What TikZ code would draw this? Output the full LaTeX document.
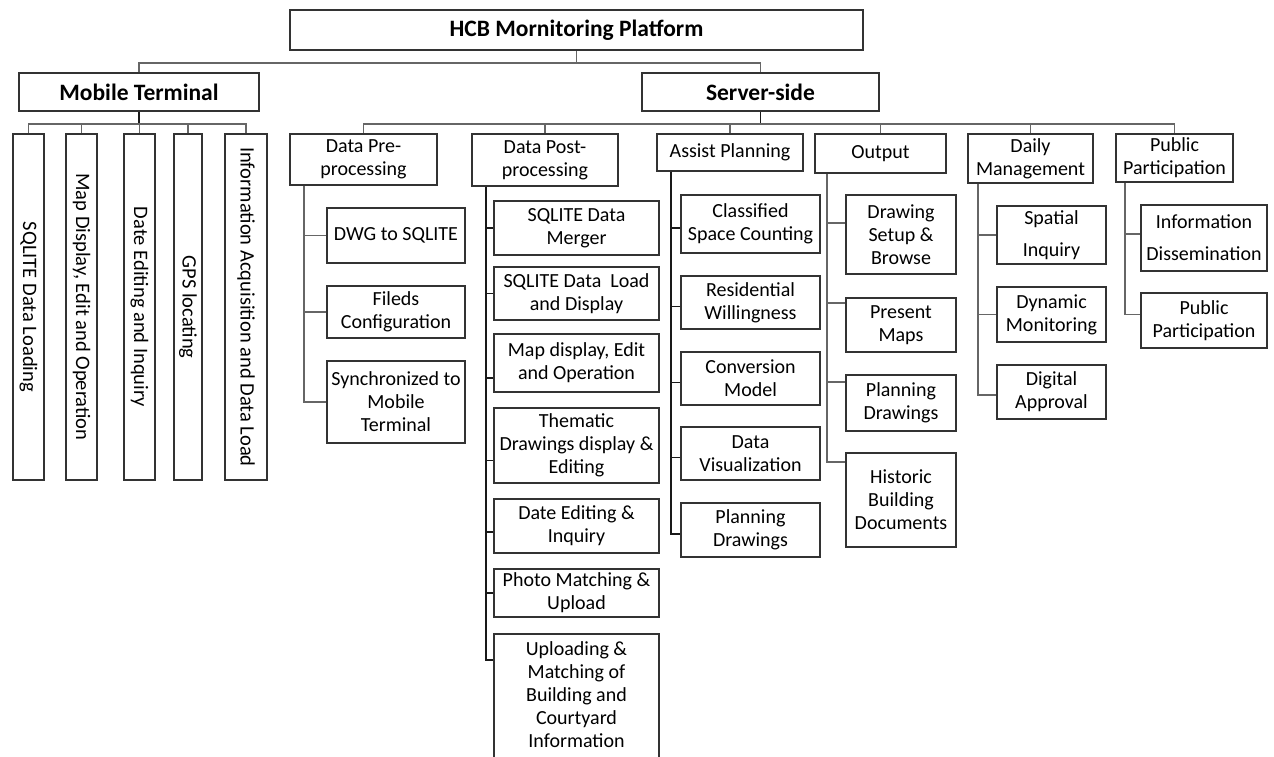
\documentclass[tikz,border=0pt]{standalone}
\usepackage{fontspec}
\setmainfont{Carlito}
\begin{document}
\begin{tikzpicture}[x=1pt,y=-1pt,
 bx/.style={draw=black!80, line width=1.6pt, align=center, inner sep=0pt, font=\fontsize{20}{23}\selectfont, text=black},
 ttl/.style={bx, font=\fontsize{23.5}{26}\selectfont\bfseries},
 vbx/.style={bx, rotate=-90, minimum width=346, font=\fontsize{20.5}{23}\selectfont},
 ln/.style={draw=black!60, line width=1.7pt},
 dln/.style={draw=black!90, line width=1.9pt}]
\useasboundingbox (0,0) rectangle (1274,756);
% top level
\node[ttl, minimum width=573, minimum height=40] (hcb) at (576.5,30) {HCB Mornitoring Platform};
\node[ttl, minimum width=240, minimum height=38] (mt) at (139,92) {Mobile Terminal};
\node[ttl, minimum width=237, minimum height=38] (ss) at (760.5,92) {Server-side};
% mobile terminal children
\node[vbx, minimum height=31] (m1) at (28.5,307) {SQLITE Data Loading};
\node[vbx, minimum height=31] (m2) at (81.5,307) {Map Display, Edit and Operation};
\node[vbx, minimum height=31] (m3) at (139.5,307) {Date Editing and Inquiry};
\node[vbx, minimum height=28] (m4) at (188,307) {GPS locating};
\node[vbx, minimum height=42] (m5) at (246,307) {Information Acquisition and Data Load};
% server-side groups
\node[bx, minimum width=147, minimum height=51] (dp) at (363.5,159.5) {Data Pre-\\processing};
\node[bx, minimum width=146, minimum height=52] (dq) at (545,160) {Data Post-\\processing};
\node[bx, minimum width=146, minimum height=37] (ap) at (730,152.5) {Assist Planning};
\node[bx, minimum width=131, minimum height=39] (op) at (880.5,153.5) {Output};
\node[bx, minimum width=125, minimum height=49] (dm) at (1030.5,158.5) {Daily\\Management};
\node[bx, minimum width=117, minimum height=48] (pp) at (1174.5,158) {Public\\Participation};
% data pre-processing
\node[bx, minimum width=138, minimum height=55] (a1) at (396,235.5) {DWG to SQLITE};
\node[bx, minimum width=138, minimum height=52] (a2) at (396,312) {Fileds\\Configuration};
\node[bx, minimum width=138, minimum height=82] (a3) at (396,402) {Synchronized to\\Mobile\\Terminal};
% data post-processing
\node[bx, minimum width=165, minimum height=54] (b1) at (576.5,228) {SQLITE Data\\Merger};
\node[bx, minimum width=165, minimum height=53] (b2) at (576.5,293.5) {SQLITE Data\ \ Load\\and Display};
\node[bx, minimum width=165, minimum height=58] (b3) at (576.5,363) {Map display, Edit\\and Operation};
\node[bx, minimum width=165, minimum height=75] (b4) at (576.5,445.5) {Thematic\\Drawings display \&\\Editing};
\node[bx, minimum width=165, minimum height=54] (b5) at (576.5,526) {Date Editing \&\\Inquiry};
\node[bx, minimum width=165, minimum height=48] (b6) at (576.5,593) {Photo Matching \&\\Upload};
\node[bx, minimum width=165, minimum height=137, anchor=north] (b7) at (576.5,633) {};
\node[align=center, inner sep=0pt, font=\fontsize{20}{23}\selectfont] (b7t) at (576.5,694.5) {Uploading \&\\Matching of\\Building and\\Courtyard\\Information};
% assist planning
\node[bx, minimum width=139, minimum height=58] (c1) at (750.5,224) {Classified\\Space Counting};
\node[bx, minimum width=139, minimum height=53] (c2) at (750.5,302.5) {Residential\\Willingness};
\node[bx, minimum width=139, minimum height=53] (c3) at (750.5,378.5) {Conversion\\Model};
\node[bx, minimum width=139, minimum height=53] (c4) at (750.5,453.5) {Data\\Visualization};
\node[bx, minimum width=139, minimum height=54] (c5) at (750.5,530) {Planning\\Drawings};
% output
\node[bx, minimum width=110, minimum height=79] (d1) at (901,234.5) {Drawing\\Setup \&\\Browse};
\node[bx, minimum width=110, minimum height=54] (d2) at (901,325) {Present\\Maps};
\node[bx, minimum width=110, minimum height=56] (d3) at (901,403) {Planning\\Drawings};
\node[bx, minimum width=110, minimum height=94] (d4) at (901,500) {Historic\\Building\\Documents};
% daily management
\node[bx, minimum width=109, minimum height=58, font=\fontsize{20}{32}\selectfont] (e1) at (1051.5,235) {Spatial\\Inquiry};
\node[bx, minimum width=109, minimum height=55] (e2) at (1051.5,314.5) {Dynamic\\Monitoring};
\node[bx, minimum width=109, minimum height=54] (e3) at (1051.5,392) {Digital\\Approval};
% public participation
\node[bx, minimum width=126, minimum height=66, font=\fontsize{20}{32}\selectfont] (f1) at (1204,238) {Information\\Dissemination};
\node[bx, minimum width=126, minimum height=55] (f2) at (1204,320.5) {Public\\Participation};
% connectors: top
\draw[ln] (hcb.south) -- ++(0,12) coordinate (j0) -| (mt.north);
\draw[ln] (j0) -| (ss.north);
\draw[dln] (mt.south) -- ++(0,12) coordinate (j1);
\foreach \n in {m1,m2,m3,m4,m5} \draw[ln] (j1) -| (\n.west);
\draw[dln] (ss.south) -- ++(0,12) coordinate (j2);
\foreach \n in {dp,dq,ap,op,dm,pp} \draw[ln] (j2) -| (\n.north);
% group trees
\coordinate (g1) at ([xshift=15pt]dp.south west);
\foreach \n in {a1,a2,a3} \draw[ln] (g1) |- (\n.west);
\coordinate (g2) at ([xshift=15pt]dq.south west);
\foreach \t in {b1,b2,b6} \draw[dln] (g2) |- (\t.west);
\draw[dln] (g2) |- ([yshift=-15pt]b3.west);
\draw[dln] (g2) |- ([yshift=-15pt]b4.west);
\draw[dln] (g2) |- ([yshift=-6pt]b5.west);
\draw[dln] (g2) |- ([yshift=-27pt]b7.north west);
\coordinate (g3) at ([xshift=15pt]ap.south west);
\foreach \t in {c1,c2,c3,c4,c5} \draw[dln] (g3) |- ([yshift=-4pt]\t.west);
\coordinate (g4) at ([xshift=13pt]op.south west);
\draw[ln] (g4) |- ([yshift=-29pt]d1.north west);
\draw[ln] (g4) |- ([yshift=-6pt]d2.north west);
\draw[ln] (g4) |- ([yshift=-8pt]d3.north west);
\draw[ln] (g4) |- ([yshift=-10pt]d4.north west);
\coordinate (g5) at ([xshift=11pt]dm.south west);
\draw[ln] (g5) |- (e1.west);
\draw[ln] (g5) |- (e2.west);
\draw[ln] (g5) |- ([yshift=-3pt]e3.west);
\coordinate (g6) at ([xshift=10pt]pp.south west);
\draw[ln] (g6) |- ([yshift=4pt]f1.west);
\draw[ln] (g6) |- ([yshift=6pt]f2.west);
\end{tikzpicture}
\end{document}
